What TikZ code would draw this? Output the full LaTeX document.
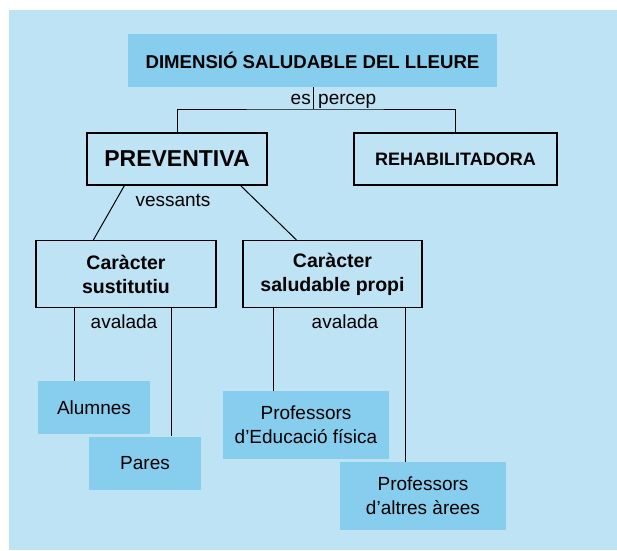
\documentclass[tikz,border=0pt]{standalone}
\usepackage{fontspec}
\setmainfont{Liberation Sans}
\definecolor{bgblue}{HTML}{BEE3F5}
\definecolor{boxblue}{HTML}{87CEEE}
\begin{document}
\begin{tikzpicture}[x=1pt,y=-1pt,
  framebox/.style={draw=black,line width=1.2pt,fill=bgblue,inner sep=0pt,align=center,font=\bfseries\fontsize{19.5}{24}\selectfont},
  fillbox/.style={fill=boxblue,inner sep=0pt,align=center,font=\fontsize{19}{24}\selectfont},
  lbl/.style={inner sep=0pt,font=\fontsize{19}{22}\selectfont},
  conn/.style={draw=black,line width=1pt}]
\useasboundingbox (0,0) rectangle (617,550);
\fill[white] (0,0) rectangle (617,550);
\fill[bgblue] (9,10) rectangle (617,550);

\node[fillbox,minimum width=369pt,minimum height=53pt,font=\bfseries\fontsize{18.6}{22}\selectfont] (top) at (312.5,60.5) {DIMENSIÓ SALUDABLE DEL LLEURE};
\node[framebox,minimum width=180pt,minimum height=52pt,font=\bfseries\fontsize{23}{26}\selectfont] (prev) at (177,159) {PREVENTIVA};
\node[framebox,minimum width=203pt,minimum height=52pt,font=\bfseries\fontsize{18}{22}\selectfont] (rehab) at (455.5,159) {REHABILITADORA};
\node[framebox,minimum width=180pt,minimum height=67pt] (sust) at (126,274) {Caràcter\\sustitutiu};
\node[framebox,minimum width=179pt,minimum height=67pt] (propi) at (332.5,274) {Caràcter\\saludable propi};
\node[fillbox,minimum width=112pt,minimum height=53pt] (alum) at (94,407.5) {Alumnes};
\node[fillbox,minimum width=112pt,minimum height=53pt] (pares) at (145,463) {Pares};
\node[fillbox,minimum width=166pt,minimum height=68pt] (pef) at (306,425) {Professors\\d’Educació física};
\node[fillbox,minimum width=166pt,minimum height=68pt] (palt) at (423,496) {Professors\\d’altres àrees};

\coordinate (j) at (313.5,109);
\draw[conn] (top.south -| j) -- (j);
\draw[conn] (prev.north) |- (j) -| (rehab.north);
\draw[conn] ([xshift=38pt]prev.south west) -- ([xshift=58pt]sust.north west);
\draw[conn] ([xshift=-27pt]prev.south east) -- ([xshift=54pt]propi.north west);
\draw[conn] ([xshift=37pt]alum.north west) coordinate (a1) -- (a1 |- sust.south);
\draw[conn] ([xshift=83pt]pares.north west) coordinate (a2) -- (a2 |- sust.south);
\draw[conn] ([xshift=51pt]pef.north west) coordinate (a3) -- (a3 |- propi.south);
\draw[conn] ([xshift=66pt]palt.north west) coordinate (a4) -- (a4 |- propi.south);

\node[lbl,anchor=base east] (es) at (311,104) {es};
\node[lbl,anchor=base west] (percep) at (318,104) {percep};
\node[lbl,anchor=base] (vess) at (173,206) {vessants};
\node[lbl,anchor=base] (av1) at (124,328) {avalada};
\node[lbl,anchor=base] (av2) at (345,328) {avalada};
\end{tikzpicture}
\end{document}
